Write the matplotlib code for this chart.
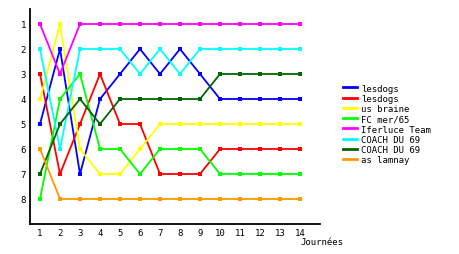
import matplotlib
matplotlib.use('Agg')
import matplotlib.pyplot as plt
from matplotlib.lines import Line2D
import numpy as np

journees = list(range(1, 15))

teams = ['lesdogs', 'lesdogs', 'us braine', 'FC mer/65', 'Iferluce Team',
         'COACH DU 69', 'COACH DU 69', 'as lamnay']
colors = ['#0000ff', '#ff0000', '#ffff00', '#00ff00', '#ff00ff',
          '#00ffff', '#006600', '#ff9900']

lesdogs_1 = [5, 2, 7, 4, 3, 2, 3, 2, 3, 4, 4, 4, 4, 4]
lesdogs_2 = [3, 7, 5, 3, 5, 5, 7, 7, 7, 6, 6, 6, 6, 6]
us_braine = [4, 1, 6, 7, 7, 6, 5, 5, 5, 5, 5, 5, 5, 5]
fc_mer = [8, 4, 3, 6, 6, 7, 6, 6, 6, 7, 7, 7, 7, 7]
iferluce = [1, 3, 1, 1, 1, 1, 1, 1, 1, 1, 1, 1, 1, 1]
coach_1 = [2, 6, 2, 2, 2, 3, 2, 3, 2, 2, 2, 2, 2, 2]
coach_2 = [7, 5, 4, 5, 4, 4, 4, 4, 4, 3, 3, 3, 3, 3]
as_lamnay = [6, 8, 8, 8, 8, 8, 8, 8, 8, 8, 8, 8, 8, 8]

series = [lesdogs_1, lesdogs_2, us_braine, fc_mer, iferluce,
          coach_1, coach_2, as_lamnay]

plt.rcParams['font.family'] = 'DejaVu Sans Mono'

fig = plt.figure(figsize=(4.6, 2.55), dpi=100)
ax = fig.add_axes([30/460, 1 - 225/255, 290/460, 215/255])

for vals, c in zip(series, colors):
    ax.plot(journees, vals, color=c, lw=1.3, marker='s', ms=2.5,
            markeredgewidth=0)

ax.set_xlim(0.5, 15)
ax.set_ylim(9, 0.4)
ax.set_xticks(journees)
ax.set_yticks(range(1, 9))
ax.tick_params(length=0, labelsize=6.5, pad=3)
ax.spines['top'].set_visible(False)
ax.spines['right'].set_visible(False)
ax.spines['left'].set_linewidth(1.3)
ax.spines['bottom'].set_linewidth(1.3)

fig.text(300/460, 1 - 245/255, 'Journées', fontsize=6.5)

handles = [Line2D([], [], color=c, lw=2) for c in colors]
fig.legend(handles, teams, loc='upper left',
           bbox_to_anchor=(338/460, 1 - 80/255),
           frameon=False, fontsize=6.5, handlelength=1.6, handletextpad=0.5,
           labelspacing=0.14, borderpad=0)

plt.savefig('out.png', dpi=100)
plt.close()
